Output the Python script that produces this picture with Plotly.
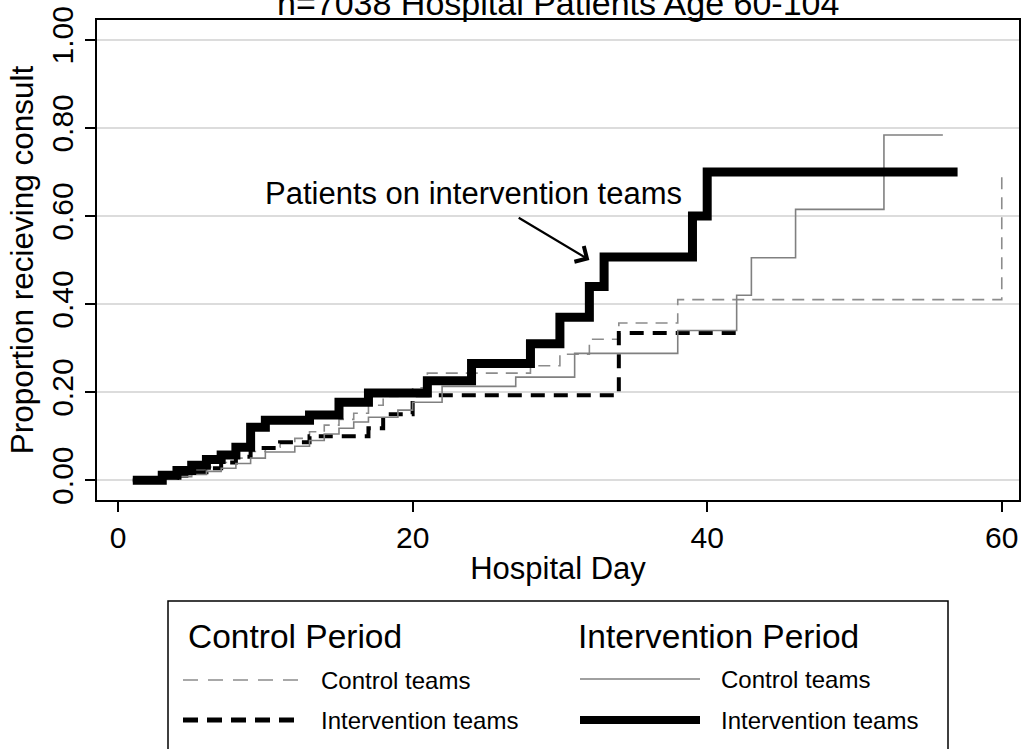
import plotly.graph_objects as go

# ---- data ----
cc_day = [1, 3, 4, 5, 6, 7, 8, 9, 10, 11, 12, 13, 14, 15, 16, 17, 18, 19, 20, 21, 28, 30, 32, 34, 38, 60]
cc_prop = [0, 0.005, 0.012, 0.02, 0.03, 0.04, 0.05, 0.065, 0.075, 0.085, 0.095, 0.11, 0.125, 0.138,
           0.152, 0.17, 0.19, 0.20, 0.21, 0.243, 0.26, 0.286, 0.32, 0.357, 0.41, 0.70]

ci_day = [1, 3, 4, 5, 6, 7, 8, 9, 11, 13, 17, 18, 20, 34, 42]
ci_prop = [0, 0.005, 0.01, 0.018, 0.027, 0.04, 0.053, 0.073, 0.086, 0.10, 0.118, 0.15, 0.193, 0.334, 0.334]

ic_day = [1, 3, 4, 5, 6, 7, 8, 9, 10, 12, 13, 14, 15, 16, 17, 19, 20, 22, 27, 31, 38, 42, 43, 46, 52, 56]
ic_prop = [0, 0.003, 0.008, 0.013, 0.02, 0.027, 0.038, 0.05, 0.064, 0.077, 0.09, 0.105, 0.118, 0.132,
           0.143, 0.159, 0.177, 0.213, 0.234, 0.288, 0.34, 0.42, 0.505, 0.615, 0.784, 0.784]

ii_day = [1, 3, 4, 5, 6, 7, 8, 9, 10, 13, 15, 17, 21, 24, 28, 30, 32, 33, 39, 40, 57]
ii_prop = [0, 0.011, 0.022, 0.034, 0.047, 0.057, 0.075, 0.12, 0.136, 0.148, 0.177, 0.198, 0.226,
           0.265, 0.31, 0.37, 0.44, 0.507, 0.60, 0.70, 0.70]

x_ticks = [0, 20, 40, 60]
y_ticks = [0, 0.2, 0.4, 0.6, 0.8, 1.0]

title_text = "n=7038 Hospital Patients Age 60-104"
x_title = "Hospital Day"
y_title = "Proportion recieving consult"
note_text = "Patients on intervention teams"
note_xy = (24.1, 0.652)
arrow_head = (32.0, 0.50)
arrow_tail = (27.1, 0.598)

FONT = "Liberation Sans, Arial, Helvetica, sans-serif"
W, H = 1024, 749
L, R, T, B = 97, 5, 20, 249
PW, PH = W - L - R, H - T - B


def px(xp):
    return (xp - L) / PW


def py(yp):
    return (H - B - yp) / PH


fig = go.Figure()
fig.add_trace(go.Scatter(x=cc_day, y=cc_prop, mode="lines", line_shape="hv",
                         line=dict(color="#8c8c8c", width=1.6, dash="12px,8px"),
                         name="Control Period: Control teams", showlegend=False))
fig.add_trace(go.Scatter(x=ci_day, y=ci_prop, mode="lines", line_shape="hv",
                         line=dict(color="black", width=4, dash="14px,9px"),
                         name="Control Period: Intervention teams", showlegend=False))
fig.add_trace(go.Scatter(x=ic_day, y=ic_prop, mode="lines", line_shape="hv",
                         line=dict(color="#808080", width=1.6),
                         name="Intervention Period: Control teams", showlegend=False))
fig.add_trace(go.Scatter(x=ii_day, y=ii_prop, mode="lines", line_shape="hv",
                         line=dict(color="black", width=9),
                         name="Intervention Period: Intervention teams", showlegend=False))

fig.update_layout(
    width=W, height=H,
    margin=dict(l=L, r=R, t=T, b=B, autoexpand=False),
    paper_bgcolor="white", plot_bgcolor="white",
    font=dict(family=FONT, color="black", size=30),
    showlegend=False,
)

fig.update_xaxes(
    range=[-1.43, 61.17], tickvals=x_ticks, ticktext=[str(v) for v in x_ticks],
    showgrid=False, zeroline=False, automargin=False,
    showline=True, linecolor="black", linewidth=1.5, mirror=True,
    ticks="outside", ticklen=10, tickwidth=1.5, tickcolor="black",
    tickfont=dict(size=30, family=FONT),
    title=dict(text=x_title, font=dict(size=31, family=FONT), standoff=5),
)
fig.update_yaxes(
    range=[-0.045, 1.045], tickvals=y_ticks, ticktext=["%.2f" % v for v in y_ticks],
    showgrid=True, gridcolor="#dcdcdc", gridwidth=2, zeroline=False, automargin=False,
    showline=True, linecolor="black", linewidth=1.5, mirror=True,
    ticks="outside", ticklen=10, tickwidth=1.5, tickcolor="black",
    tickangle=-90, tickfont=dict(size=30, family=FONT),
    title=dict(text=y_title, font=dict(size=31.5, family=FONT), standoff=3),
)

annotations = [
    dict(text=title_text, xref="paper", yref="paper", x=px(558), y=py(3),
         xanchor="center", yanchor="middle", showarrow=False,
         font=dict(size=34, family=FONT)),
    dict(text=note_text, xref="x", yref="y", x=note_xy[0], y=note_xy[1],
         xanchor="center", yanchor="middle", showarrow=False,
         font=dict(size=31, family=FONT)),
    dict(text="", xref="x", yref="y", x=arrow_head[0], y=arrow_head[1],
         axref="x", ayref="y", ax=arrow_tail[0], ay=arrow_tail[1],
         showarrow=True, arrowhead=4, arrowsize=1.6, arrowwidth=2.2, arrowcolor="black"),
]

shapes = [
    dict(type="rect", xref="paper", yref="paper", x0=px(168), x1=px(948), y0=py(601), y1=py(765),
         line=dict(color="black", width=1.5), fillcolor="rgba(0,0,0,0)", layer="above"),
]

legend_headers = [("Control Period", 186), ("Intervention Period", 576)]
for txt, x0 in legend_headers:
    annotations.append(dict(text=txt, xref="paper", yref="paper", x=px(x0), y=py(636),
                            xanchor="left", yanchor="middle", showarrow=False,
                            font=dict(size=33.5, family=FONT)))

legend_rows = [
    ("Control teams", 183, 300, 319, 680, dict(color="#8c8c8c", width=1.6, dash="15px,10px")),
    ("Intervention teams", 183, 300, 319, 720, dict(color="black", width=5, dash="15px,9px")),
    ("Control teams", 580, 700, 719, 679, dict(color="#808080", width=1.6)),
    ("Intervention teams", 580, 700, 719, 720, dict(color="black", width=8)),
]
for txt, lx0, lx1, tx, yy, ln in legend_rows:
    shapes.append(dict(type="line", xref="paper", yref="paper", x0=px(lx0), x1=px(lx1),
                       y0=py(yy), y1=py(yy), line=ln))
    annotations.append(dict(text=txt, xref="paper", yref="paper", x=px(tx), y=py(yy),
                            xanchor="left", yanchor="middle", showarrow=False,
                            font=dict(size=24, family=FONT)))

fig.update_layout(annotations=annotations, shapes=shapes)
fig.write_html("out.html", config={"displayModeBar": False},
               post_script="document.body.style.margin='0';document.body.style.overflow='hidden';")
